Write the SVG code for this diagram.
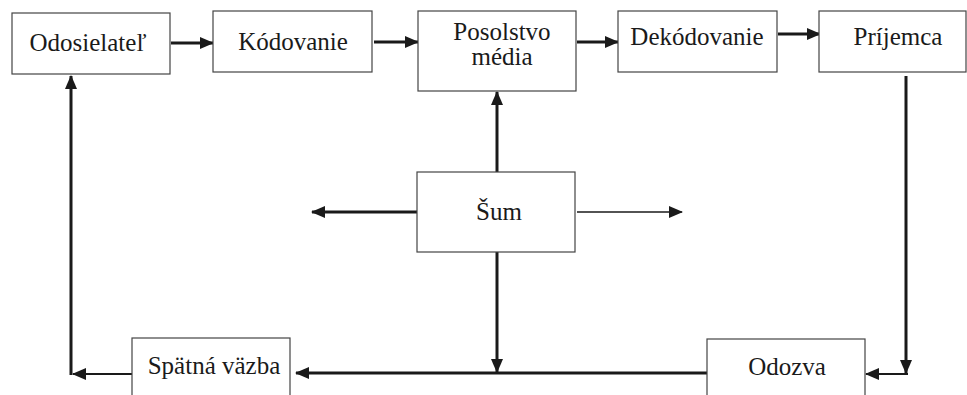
<svg xmlns="http://www.w3.org/2000/svg" width="967" height="395" viewBox="0 0 967 395" font-family="'Liberation Serif', 'DejaVu Serif', 'Noto Serif', serif">
<defs>
<marker id="ah" markerUnits="userSpaceOnUse" markerWidth="14" markerHeight="12" refX="13" refY="6" orient="auto">
<path d="M0,0 L14,6 L0,12 z" fill="#1a1a1a"/>
</marker>
</defs>
<style>
.box{fill:#fff;stroke:#444;stroke-width:1.2}
.t{font-size:25px;fill:#1a1a1a;text-anchor:middle}
.c{stroke:#1a1a1a;stroke-width:3;fill:none}
.thin{stroke-width:2}
</style>
<rect width="967" height="395" fill="#fff"/>
<g id="connectors">
<line class="c" x1="171" y1="43" x2="213" y2="43" marker-end="url(#ah)"/>
<line class="c" x1="374" y1="42" x2="418" y2="42" marker-end="url(#ah)"/>
<line class="c" x1="577" y1="42" x2="618" y2="42" marker-end="url(#ah)"/>
<line class="c" x1="778" y1="34" x2="820" y2="34" marker-end="url(#ah)"/>
<line class="c" x1="906" y1="76" x2="906" y2="373" marker-end="url(#ah)"/>
<line class="c thin" x1="908" y1="374" x2="866" y2="374" marker-end="url(#ah)"/>
<line class="c" x1="707" y1="373" x2="296" y2="373" marker-end="url(#ah)"/>
<line class="c thin" x1="132" y1="374" x2="73" y2="374" marker-end="url(#ah)"/>
<line class="c" x1="71" y1="375" x2="71" y2="76" marker-end="url(#ah)"/>
<line class="c" x1="497" y1="172" x2="497" y2="92" marker-end="url(#ah)"/>
<line class="c" x1="497" y1="252" x2="497" y2="372" marker-end="url(#ah)"/>
<line class="c" x1="417" y1="212" x2="312" y2="212" marker-end="url(#ah)"/>
<line class="c" style="stroke-width:1.5" x1="577" y1="212" x2="682" y2="212" marker-end="url(#ah)"/>
</g>
<g id="odosielatel"><rect class="box" x="12" y="13" width="158" height="61"/><text class="t" x="88" y="51">Odosielateľ</text></g>
<g id="kodovanie"><rect class="box" x="213" y="11" width="159" height="61"/><text class="t" x="293" y="50">Kódovanie</text></g>
<g id="posolstvo"><rect class="box" x="418" y="11" width="158" height="80"/><text class="t" x="502" y="40">Posolstvo</text><text class="t" x="502" y="65">média</text></g>
<g id="dekodovanie"><rect class="box" x="618" y="11" width="159" height="61"/><text class="t" x="697" y="45">Dekódovanie</text></g>
<g id="prijemca"><rect class="box" x="819" y="11" width="147" height="61"/><text class="t" x="898" y="45">Príjemca</text></g>
<g id="sum"><rect class="box" x="417" y="172" width="158" height="80"/><text class="t" x="499" y="220">Šum</text></g>
<g id="spatna-vazba"><rect class="box" x="132" y="338" width="158" height="70"/><text class="t" x="214" y="374">Spätná väzba</text></g>
<g id="odozva"><rect class="box" x="707" y="339" width="158" height="70"/><text class="t" x="787" y="375">Odozva</text></g>
</svg>
